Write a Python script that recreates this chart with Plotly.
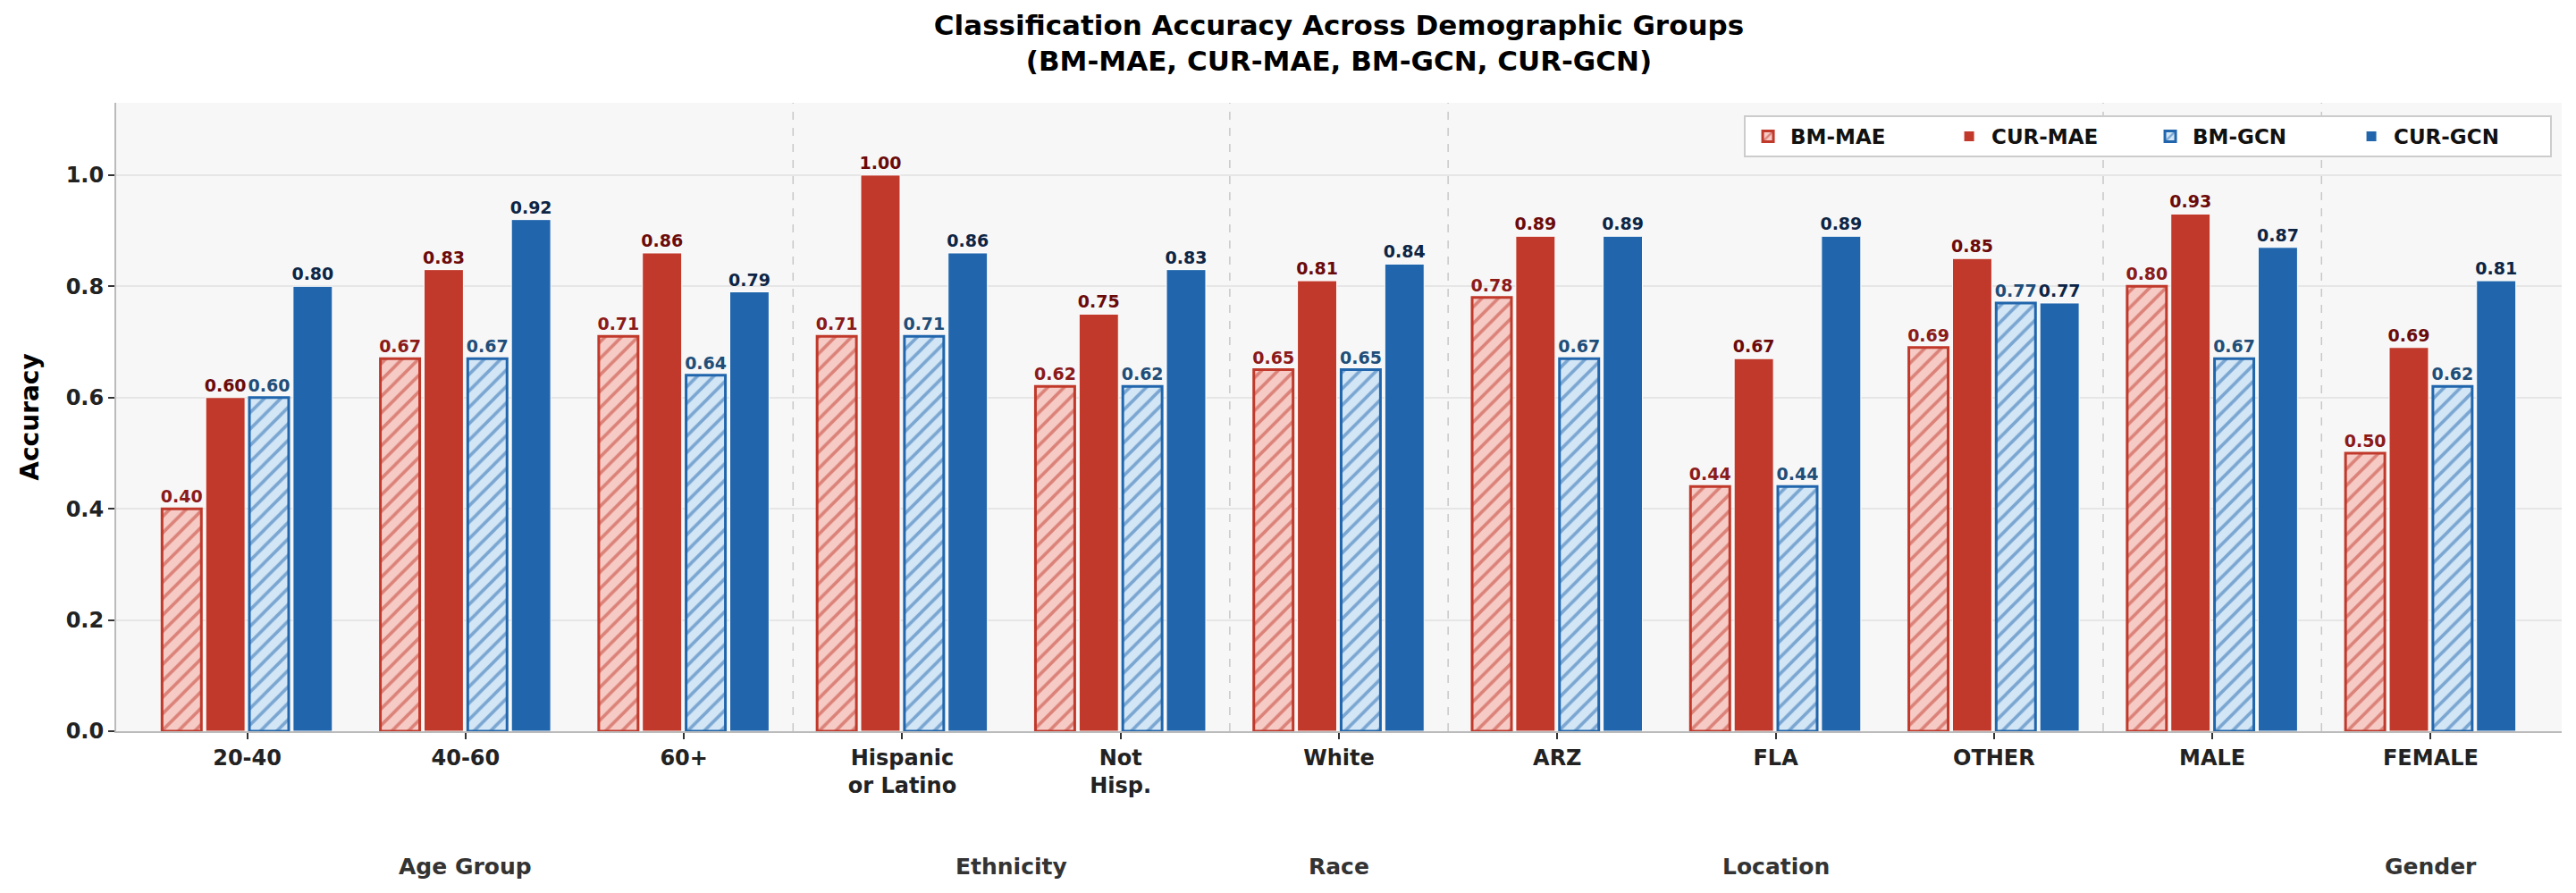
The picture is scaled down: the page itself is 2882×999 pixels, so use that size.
import plotly.graph_objects as go

categories = ["20-40", "40-60", "60+", "Hispanic<br>or Latino", "Not<br>Hisp.", "White",
              "ARZ", "FLA", "OTHER", "MALE", "FEMALE"]
bm_mae = [0.40, 0.67, 0.71, 0.71, 0.62, 0.65, 0.78, 0.44, 0.69, 0.80, 0.50]
cur_mae = [0.60, 0.83, 0.86, 1.00, 0.75, 0.81, 0.89, 0.67, 0.85, 0.93, 0.69]
bm_gcn = [0.60, 0.67, 0.64, 0.71, 0.62, 0.65, 0.67, 0.44, 0.77, 0.67, 0.62]
cur_gcn = [0.80, 0.92, 0.79, 0.86, 0.83, 0.84, 0.89, 0.89, 0.77, 0.87, 0.81]
group_names = ["Age Group", "Ethnicity", "Race", "Location", "Gender"]
group_pos = [1, 3.5, 5, 7, 10]
separators = [2.5, 4.5, 5.5, 8.5, 9.5]

FONT = "DejaVu Sans"
RED = "#c0392b"
BLUE = "#2166ac"
x_idx = list(range(len(categories)))

fig = go.Figure()

def add(name, vals, hatched, color, bg, txtcolor):
    if hatched:
        marker = dict(color=bg, line=dict(color=color, width=3),
                      pattern=dict(shape="/", fgcolor=color, bgcolor=bg, size=13, solidity=0.28))
    else:
        marker = dict(color=color, line=dict(color="white", width=1))
    fig.add_trace(go.Bar(
        name=name, x=x_idx, y=vals, marker=marker,
        texttemplate="%{y:.2f}", textposition="outside", constraintext="none",
        cliponaxis=False,
        textfont=dict(family=FONT, size=19, color=txtcolor, weight="bold"),
    ))

add("BM-MAE", bm_mae, True, RED, "#f6cbc6", "#8b1a1a")
add("CUR-MAE", cur_mae, False, RED, None, "#6b0a0a")
add("BM-GCN", bm_gcn, True, BLUE, "#d3e6f6", "#1f4e79")
add("CUR-GCN", cur_gcn, False, BLUE, None, "#0d2545")

shapes = []
for s in separators:
    shapes.append(dict(type="line", xref="x", yref="paper", x0=s, x1=s, y0=0, y1=1,
                       line=dict(color="#c8c8c8", width=1.5, dash="dash"), layer="below"))

annotations = []
for g, p in zip(group_names, group_pos):
    annotations.append(dict(x=p, xref="x", y=-0.215, yref="paper", text=g, showarrow=False,
                            yanchor="middle", font=dict(family=FONT, size=25, color="#333333", weight="bold")))

fig.update_layout(
    width=2882, height=999,
    margin=dict(l=130, r=16, t=115, b=181),
    paper_bgcolor="white", plot_bgcolor="#f7f7f7",
    barmode="group", bargap=0.2, bargroupgap=0.1,
    title=dict(text="Classification Accuracy Across Demographic Groups<br>(BM-MAE, CUR-MAE, BM-GCN, CUR-GCN)",
               x=0.5, xref="paper", xanchor="center", y=1 - 39 / 999, yref="container", yanchor="middle",
               font=dict(family=FONT, size=31, color="black", weight="bold")),
    font=dict(family=FONT, color="#222222"),
    legend=dict(orientation="h", x=0.996, xanchor="right", y=0.98, yanchor="top",
                bgcolor="white", bordercolor="#cccccc", borderwidth=2,
                font=dict(family=FONT, size=23, color="#111111", weight="bold"),
                itemwidth=40, traceorder="normal", entrywidth=170, entrywidthmode="pixels"),
    shapes=shapes, annotations=annotations,
    xaxis=dict(tickmode="array", tickvals=x_idx, ticktext=categories, range=[-0.6, 10.6],
               showline=True, linecolor="#bbbbbb", linewidth=2, ticks="outside", ticklen=7,
               tickcolor="#333333", tickwidth=1.5, showgrid=False, zeroline=False,
               tickfont=dict(family=FONT, size=24, color="#222222", weight="bold")),
    yaxis=dict(range=[0, 1.13], tickvals=[0, 0.2, 0.4, 0.6, 0.8, 1.0], tickformat=".1f",
               showline=True, linecolor="#bbbbbb", linewidth=2, ticks="outside", ticklen=7,
               tickcolor="#333333", tickwidth=1.5, gridcolor="#e6e6e6", gridwidth=1.5, zeroline=False,
               tickfont=dict(family=FONT, size=24, color="#222222", weight="bold")),
)
fig.update_yaxes(title=dict(text="Accuracy", standoff=22,
                            font=dict(family=FONT, size=28, color="black", weight="bold")))

fig.write_html("out.html")
